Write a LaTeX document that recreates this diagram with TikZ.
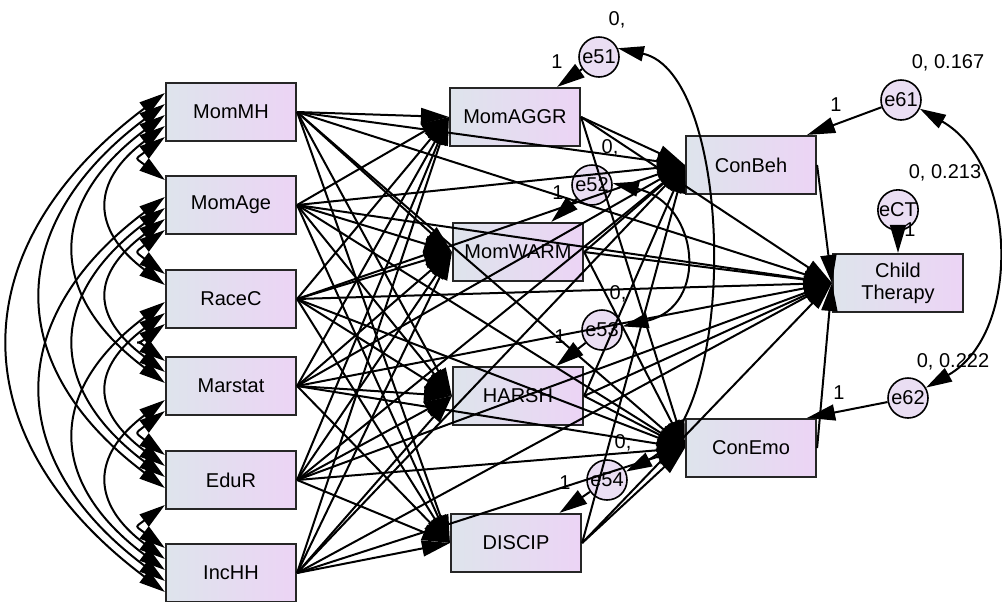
\documentclass[tikz,border=0pt]{standalone}
\usepackage{fontspec}
\setmainfont{Liberation Sans}
\usetikzlibrary{arrows.meta,calc}
\definecolor{boxL}{RGB}{222,228,236}
\definecolor{boxR}{RGB}{236,212,245}
\definecolor{circ}{RGB}{234,222,243}
\begin{document}
\begin{tikzpicture}[x=0.5pt,y=-0.5pt,
  obs/.style={draw=black!85, line width=1.1pt, left color=boxL, right color=boxR, minimum width=65pt, minimum height=29pt, inner sep=0pt, font=\fontsize{10}{11}\selectfont, align=center},
  err/.style={draw=black, line width=0.8pt, fill=circ, circle, minimum size=20pt, inner sep=0pt, font=\fontsize{10}{11}\selectfont},
  lab/.style={font=\fontsize{10}{11}\selectfont, inner sep=0pt},
  reg/.style={line width=1pt, -{Triangle[length=14pt,width=8pt]}},
  cov/.style={line width=1pt, {Triangle[length=13pt,width=7.5pt]}-{Triangle[length=13pt,width=7.5pt]}},
]
\useasboundingbox (0,0) rectangle (1002,601);
% exogenous
\node[obs] (MomMH) at (231,112) {MomMH};
\node[obs] (MomAge) at (231,205) {MomAge};
\node[obs] (RaceC) at (231,299) {RaceC};
\node[obs] (Marstat) at (231,386) {Marstat};
\node[obs] (EduR) at (231,480) {EduR};
\node[obs] (IncHH) at (231,573) {IncHH};
% mediators
\node[obs] (MomAGGR) at (515,117) {MomAGGR};
\node[obs] (MomWARM) at (518,252) {MomWARM};
\node[obs] (HARSH) at (518,396) {HARSH};
\node[obs] (DISCIP) at (516,543) {DISCIP};
% outcomes
\node[obs] (ConBeh) at (751,165) {ConBeh};
\node[obs] (CT) at (898,283) {Child\\Therapy};
\node[obs] (ConEmo) at (751,448) {ConEmo};
% errors
\node[err] (e51) at (599,57) {e51};
\node[err] (e52) at (592,185) {e52};
\node[err] (e53) at (602,330) {e53};
\node[err] (e54) at (607,480) {e54};
\node[err] (e61) at (901,100) {e61};
\node[err] (eCT) at (898,210) {eCT};
\node[err] (e62) at (908,398) {e62};
% regression paths
\foreach \s in {MomMH,MomAge,RaceC,Marstat,EduR,IncHH}
  \foreach \t in {MomAGGR,MomWARM,HARSH,DISCIP,ConBeh,CT,ConEmo}
    \draw[reg] (\s.east) -- (\t.west);
\foreach \s in {MomAGGR,MomWARM,HARSH,DISCIP}
  \foreach \t in {ConBeh,CT,ConEmo}
    \draw[reg] (\s.east) -- (\t.west);
\draw[reg] (ConBeh.east) -- (CT.west);
\draw[reg] (ConEmo.east) -- (CT.west);
% error paths
\draw[reg] (e51) -- (MomAGGR);
\draw[reg] (e52) -- (MomWARM);
\draw[reg] (e53) -- (HARSH);
\draw[reg] (e54) -- (DISCIP);
\draw[reg] (e61) -- ([xshift=-5pt]ConBeh.north east);
\draw[reg] (e62) -- ([xshift=-5pt]ConEmo.north east);
\draw[reg] (eCT) -- (CT);
% covariances among exogenous
\foreach \a/\b/\k in {MomMH/MomAge/1, MomMH/RaceC/2, MomMH/Marstat/3, MomMH/EduR/4, MomMH/IncHH/5,
  MomAge/RaceC/1, MomAge/Marstat/2, MomAge/EduR/3, MomAge/IncHH/4,
  RaceC/Marstat/1, RaceC/EduR/2, RaceC/IncHH/3,
  Marstat/EduR/1, Marstat/IncHH/2,
  EduR/IncHH/1} {
  \pgfmathsetmacro\off{25-11*(\k-1)}
  \pgfmathsetmacro\aa{44*\k-14}
  \pgfmathsetmacro\bb{0.75*\aa}
  \draw[cov] ($(\a.west)+(0,\off)$) .. controls +(-\aa,\bb) and +(-\aa,-\bb) .. ($(\b.west)+(0,-\off)$);
}
% covariances among errors
\draw[cov] (e51.25) .. controls +(115,25) and +(115,-60) .. (e54.24);
\draw[cov] (e52.5) .. controls +(87,20) and +(87,-20) .. (e53.10);
\draw[cov] (e61.-25) .. controls +(97,55) and +(97,-55) .. (e62.30);
% labels
\node[lab] (l1) at (617,20) {0,};
\node[lab] (l2) at (557,62) {1};
\node[lab] (l3) at (610,148) {0,};
\node[lab] (l4) at (558,193) {1};
\node[lab] (l5) at (618,294) {0,};
\node[lab] (l6) at (560,337) {1};
\node[lab] (l7) at (623,443) {0,};
\node[lab] (l8) at (565,483) {1};
\node[lab] (l9) at (948,63) {0, 0.167};
\node[lab] (l10) at (836,105) {1};
\node[lab] (l11) at (945,173) {0, 0.213};
\node[lab] (l12) at (910,230) {1};
\node[lab] (l13) at (953,362) {0, 0.222};
\node[lab] (l14) at (839,393) {1};
\end{tikzpicture}
\end{document}
